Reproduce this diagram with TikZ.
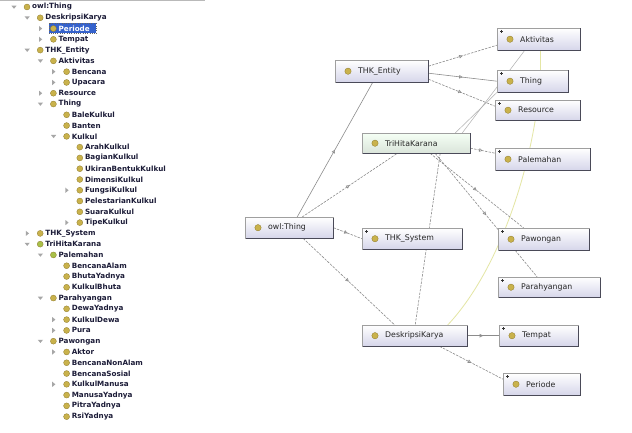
\documentclass[tikz,border=0pt]{standalone}
\usepackage{fontspec}
\setmainfont{DejaVu Sans}
\usetikzlibrary{arrows.meta,decorations.markings}
\definecolor{iconc}{HTML}{C9B24C}
\definecolor{iconb}{HTML}{8E7A2A}
\definecolor{icong}{HTML}{A8C048}
\definecolor{edgec}{HTML}{8C8C8C}
\definecolor{boxfill}{HTML}{D6D6EA}
\definecolor{shadowc}{HTML}{4A4A58}
\definecolor{treetxt}{HTML}{1C1C38}
\definecolor{selblue}{HTML}{3562CC}
\definecolor{yelc}{HTML}{E4E6A4}
\pgfdeclarelayer{bg}
\pgfsetlayers{bg,main}
\tikzset{
  treetext/.style={anchor=west, inner sep=0pt, font=\fontsize{7.2}{8}\selectfont\bfseries, text=treetxt},
  gnode/.style={draw=gray!75, top color=white, bottom color=boxfill, anchor=north west, inner sep=0pt},
  glabel/.style={anchor=west, inner sep=0pt, font=\fontsize{7.8}{9}\selectfont, text=black!85},
  conn/.style={draw=edgec, line width=0.6pt, postaction={decorate},
    decoration={markings, mark=at position 0.5 with {\arrow{Triangle[open, length=3.5pt, width=3.5pt]}}}},
  dconn/.style={conn, dash pattern=on 2.5pt off 1.2pt},
  yconn/.style={draw=yelc, line width=0.8pt},
}
\newcommand\gbox[7][]{%
  \node[gnode, minimum width=#5pt, minimum height=#6pt, #1] (#2) at (#3,#4) {};
  \draw[shadowc, line width=1.1pt] ([yshift=-0.5pt]#2.north east) -- (#2.south east) -- ([xshift=0.5pt]#2.south west);
  \fill[iconc, draw=iconb, line width=0.3pt] ([xshift=13pt]#2.west) circle (3.2pt);
  \node[glabel] (#2-l) at ([xshift=23pt]#2.west) {#7};
}
\newcommand\plusmark[1]{%
  \draw[black!80, line width=0.5pt] ([xshift=3pt,yshift=-3.5pt]#1.north west) -- ([xshift=6pt,yshift=-3.5pt]#1.north west)
    ([xshift=4.5pt,yshift=-2pt]#1.north west) -- ([xshift=4.5pt,yshift=-5pt]#1.north west);
}
\begin{document}
\begin{tikzpicture}[x=1pt,y=-1pt]
\useasboundingbox (0,0) rectangle (632,433);
\draw[gray!55, line width=1.2pt] (0,0.6) -- (205,0.6);
% ---------------- tree ----------------
\fill[selblue] (49,23.5) rectangle (96,33.5);
\draw[black!60, dotted, line width=0.3pt] (49,23.5) rectangle (96,33.5);
\foreach \lev/\mk/\txt [count=\i from 0] in {
0/d/owl:Thing,
1/d/DeskripsiKarya,
2/r/Periode,
2/r/Tempat,
1/d/THK\_Entity,
2/d/Aktivitas,
3/r/Bencana,
3/r/Upacara,
2/r/Resource,
2/d/Thing,
3/n/BaleKulkul,
3/n/Banten,
3/d/Kulkul,
4/n/ArahKulkul,
4/n/BagianKulkul,
4/n/UkiranBentukKulkul,
4/n/DimensiKulkul,
4/r/FungsiKulkul,
4/n/PelestarianKulkul,
4/n/SuaraKulkul,
4/r/TipeKulkul,
1/r/THK\_System,
1/d/TriHitaKarana,
2/d/Palemahan,
3/n/BencanaAlam,
3/n/BhutaYadnya,
3/n/KulkulBhuta,
2/d/Parahyangan,
3/n/DewaYadnya,
3/r/KulkulDewa,
3/r/Pura,
2/d/Pawongan,
3/r/Aktor,
3/n/BencanaNonAlam,
3/n/BencanaSosial,
3/r/KulkulManusa,
3/n/ManusaYadnya,
3/n/PitraYadnya,
3/n/RsiYadnya}{
  \pgfmathsetmacro\yy{7+10.78*\i}
  \pgfmathsetmacro\xx{27+13.2*\lev}
  \pgfmathsetmacro\tx{\xx-13}
  \ifnum\i=2 \def\tcol{white}\else\def\tcol{treetxt}\fi
  \ifnum\i=22 \def\icol{icong}\else\ifnum\i=23 \def\icol{icong}\else\def\icol{iconc}\fi\fi
  \fill[\icol, draw=iconb, line width=0.3pt] (\xx,\yy) circle (3pt);
  \node[treetext, text=\tcol] (t\i) at (\xx+5,\yy) {\txt};
  \if\mk d
    \fill[gray!70] (\tx-2.6,\yy-1.4) -- (\tx+2.6,\yy-1.4) -- (\tx,\yy+1.8) -- cycle;
  \fi
  \if\mk r
    \fill[gray!70] (\tx-1.4,\yy-2.6) -- (\tx-1.4,\yy+2.6) -- (\tx+1.8,\yy) -- cycle;
  \fi
}
% ---------------- graph nodes ----------------
\gbox{te}{335}{60}{93}{22}{THK\_Entity}
\gbox{ak}{497}{28}{83}{22}{Aktivitas}
\gbox{th}{497}{70}{71}{22}{Thing}
\gbox{rs}{495}{100}{85}{20}{Resource}
\gbox[top color=green!4, bottom color=green!16!gray!25]{thk}{362}{133}{108}{20}{TriHitaKarana}
\gbox{pl}{495}{148}{95}{22}{Palemahan}
\gbox{ot}{245}{217}{88}{21}{owl:Thing}
\gbox{ts}{362}{228}{100}{21}{THK\_System}
\gbox{pw}{498}{228}{91}{22}{Pawongan}
\gbox{ph}{498}{277}{102}{20}{Parahyangan}
\gbox{dk}{362}{325}{105}{21}{DeskripsiKarya}
\gbox{tp}{499}{325}{79}{21}{Tempat}
\gbox{pr}{503}{373}{77}{22}{Periode}
\foreach \n in {ak,th,rs,pl,ts,pw,ph,tp,pr}{\plusmark{\n}}
% ---------------- connectors ----------------
\begin{pgfonlayer}{bg}
\fill[white] (0,0) rectangle (632,433);
\draw[yconn] ([xshift=1.5pt]ak.south) -- ([xshift=7.5pt]th.north);
\draw[yconn] ([xshift=-2.5pt]rs.south) .. controls (522,200) and (490,280) .. ([xshift=33pt]dk.north);
\draw[conn] ([xshift=8pt]ot.north) -- ([xshift=-9pt]te.south);
\draw[dconn] ([xshift=13pt]ot.north) -- ([xshift=-19pt]thk.south);
\draw[dconn] (ot.east) -- (ts.west);
\draw[dconn] ([xshift=14pt]ot.south) -- ([xshift=-20pt]dk.north);
\draw[dconn] ([yshift=5pt]te.east) -- ([yshift=-6pt]ak.west);
\draw[conn] ([yshift=-2pt]te.east) -- (th.west);
\draw[dconn] ([yshift=-8pt]te.east) -- ([yshift=4pt]rs.west);
\draw[dconn] ([yshift=-5pt]thk.east) -- ([yshift=6pt]pl.west);
\draw[dconn] ([xshift=14pt]thk.south) -- ([xshift=-20pt]pw.north);
\draw[dconn] ([xshift=19pt]thk.south) -- ([xshift=-12pt]ph.north);
\draw[dconn] ([xshift=24pt]thk.south) -- ([xshift=0.5pt]dk.north);
\draw[draw=edgec!70, line width=0.5pt] ([xshift=39pt]thk.north) -- (th.south west);
\draw[draw=edgec!70, line width=0.5pt] ([xshift=46pt]thk.north) -- ([xshift=-14pt]ak.south);
\draw[conn] (dk.east) -- (tp.west);
\draw[dconn] ([xshift=25pt]dk.south) -- ([yshift=5pt]pr.west);
\end{pgfonlayer}
\end{tikzpicture}
\end{document}
